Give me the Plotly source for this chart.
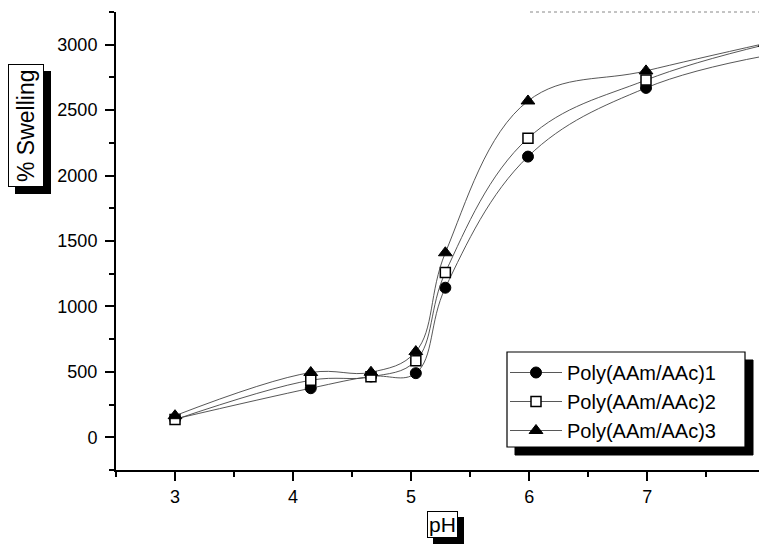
import plotly.graph_objects as go

# Data
ph = [3.0, 4.15, 4.66, 5.04, 5.29, 5.99, 6.99, 8.0]
swell_1 = [140, 375, 465, 490, 1143, 2145, 2670, 2915]
swell_2 = [135, 436, 462, 585, 1260, 2285, 2730, 3000]
swell_3 = [165, 495, 497, 655, 1410, 2570, 2800, 3010]
series_names = ["Poly(AAm/AAc)1", "Poly(AAm/AAc)2", "Poly(AAm/AAc)3"]
y_ticks = [0, 500, 1000, 1500, 2000, 2500, 3000]
x_ticks = [3, 4, 5, 6, 7, 8]

FONT = "Liberation Sans, Arial, sans-serif"
OFF = 8  # page body margin of the browser
W, H = 767 - OFF, 548 - OFF
ML, MT = 116 - OFF, 12 - OFF
MR, MB = 0, H - (470 - OFF)
PW, PH_ = W - ML - MR, H - MT - MB

def px2paper_x(px):  # screen pixel -> paper
    return (px - OFF - ML) / PW

def px2paper_y(py):
    return (H - MB - (py - OFF)) / PH_

fig = go.Figure()
markers = [
    dict(symbol="circle", size=11, color="black", line=dict(color="black", width=1)),
    dict(symbol="square", size=10, color="white", line=dict(color="black", width=1.5)),
    dict(symbol="triangle-up", size=12, color="black", line=dict(color="black", width=1)),
]
for name, ys, mk in zip(series_names, [swell_1, swell_2, swell_3], markers):
    fig.add_trace(go.Scatter(
        x=ph, y=ys, name=name, mode="lines+markers",
        line=dict(color="#444444", width=0.9, shape="spline", smoothing=1.1),
        marker=mk,
    ))

axis_common = dict(
    showline=True, linecolor="black", linewidth=2,
    ticks="outside", ticklen=9, tickwidth=2, tickcolor="black",
    showgrid=False, zeroline=False, automargin=False,
    tickfont=dict(family=FONT, size=18, color="black"),
)
fig.update_xaxes(range=[2.5, 8.015], tickvals=x_ticks, ticklabeloverflow="allow",
                 minor=dict(ticks="outside", ticklen=5, tickwidth=2, tickcolor="black", dtick=0.5, tick0=2.5),
                 **axis_common)
fig.update_yaxes(range=[-250, 3250], tickvals=y_ticks, ticklabeloverflow="allow",
                 ticklabelstandoff=4,
                 minor=dict(ticks="outside", ticklen=5, tickwidth=2, tickcolor="black", dtick=250, tick0=-250),
                 **axis_common)

# Legend box with shadow (drawn as shapes)
lx0, lx1, ly0, ly1 = 507, 745, 352, 447
shapes = [
    dict(type="rect", xref="paper", yref="paper",
         x0=px2paper_x(lx0 + 8), x1=px2paper_x(lx1 + 8), y0=px2paper_y(ly1 + 8), y1=px2paper_y(ly0 + 8),
         fillcolor="black", line=dict(color="black", width=1), layer="above"),
    dict(type="rect", xref="paper", yref="paper",
         x0=px2paper_x(lx0), x1=px2paper_x(lx1), y0=px2paper_y(ly1), y1=px2paper_y(ly0),
         fillcolor="white", line=dict(color="black", width=1.2), layer="above"),
    # faint dotted top frame fragment
    dict(type="line", xref="paper", yref="paper",
         x0=px2paper_x(530), x1=1.0, y0=1.0, y1=1.0,
         line=dict(color="#888888", width=1, dash="dot")),
]

fig.update_layout(
    width=W, height=H,
    margin=dict(l=ML, r=MR, t=MT, b=MB, autoexpand=False),
    paper_bgcolor="white", plot_bgcolor="white",
    font=dict(family=FONT, color="black"),
    shapes=shapes,
    legend=dict(
        x=px2paper_x(505), y=px2paper_y(353), xanchor="left", yanchor="top",
        bgcolor="rgba(0,0,0,0)", borderwidth=0,
        font=dict(family=FONT, size=20, color="black"),
        tracegroupgap=0, itemwidth=52,
    ),
    showlegend=True,
)

def boxed_title(text, cx, cy, angle, size, shadow, pad):
    anns = []
    for sh, bg in ((shadow, "black"), (0, "white")):
        anns.append(dict(text=text, xref="paper", yref="paper", x=px2paper_x(cx), y=px2paper_y(cy),
                         xanchor="center", yanchor="middle",
                         showarrow=False, textangle=angle, xshift=sh, yshift=-sh,
                         font=dict(family=FONT, size=size, color="black"),
                         bgcolor=bg, bordercolor="black", borderwidth=1, borderpad=pad))
    return anns

annotations = boxed_title("% Swelling", 26, 125, -90, 23, 7, 4) + boxed_title("pH", 442, 524, 0, 21, 6, 1)
fig.update_layout(annotations=annotations)

fig.write_html("out.html")
